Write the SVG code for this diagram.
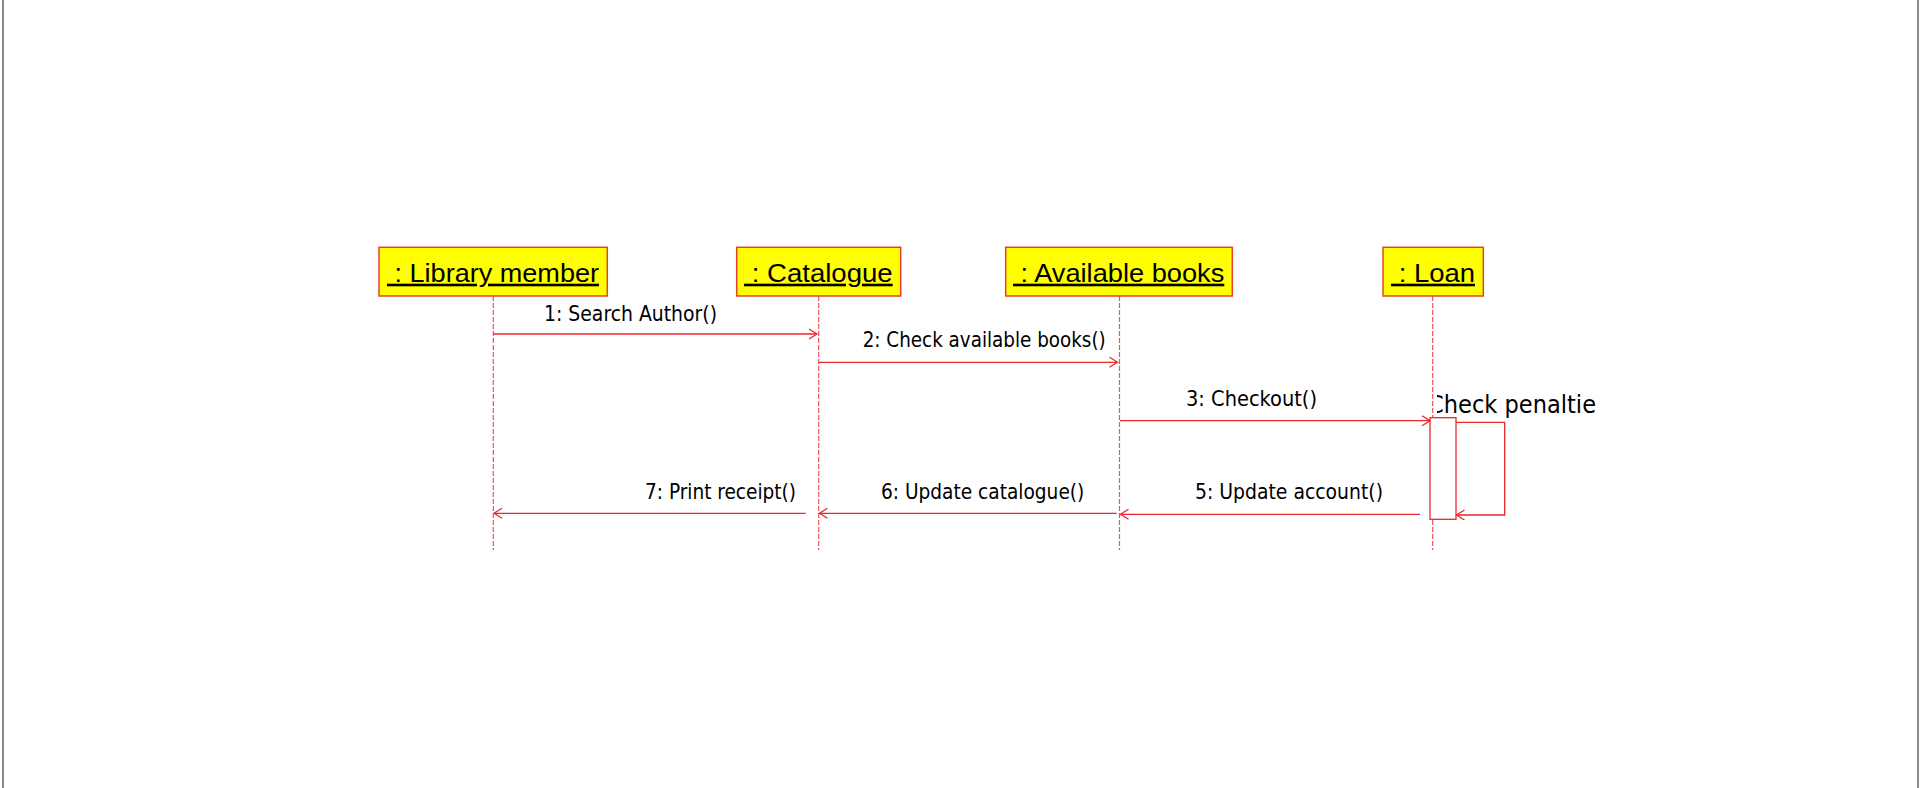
<svg xmlns="http://www.w3.org/2000/svg" width="1920" height="788" viewBox="0 0 1920 788">
<style>
.box{fill:#ffff00;stroke:#e8402a;stroke-width:1.5}
.hdr{font-family:"Liberation Sans",Arial,sans-serif;font-size:26px;fill:#000;text-decoration:underline}
.life{stroke:#f0505c;stroke-width:1.2;stroke-dasharray:5 2;fill:none}
.msg{stroke:#e8282c;stroke-width:1.3;fill:none}
.lbl{font-family:"DejaVu Sans Condensed","DejaVu Sans",sans-serif;font-size:20.5px;fill:#000}
.act{fill:#fff;stroke:#e8282c;stroke-width:1.3}
</style>
<defs>
<marker id="open" markerUnits="userSpaceOnUse" markerWidth="12" markerHeight="12" viewBox="0 0 12 12" refX="10" refY="6" orient="auto">
<path d="M2,1 L10,6 L2,11" fill="none" stroke="#e8282c" stroke-width="1.3"/>
</marker>
<clipPath id="clipPen"><rect x="1437" y="370" width="200" height="60"/></clipPath>
</defs>
<rect x="0" y="0" width="1920" height="788" fill="#fff"/>
<line x1="3" y1="0" x2="3" y2="788" stroke="#8a8a8a" stroke-width="2"/>
<line x1="1918" y1="0" x2="1918" y2="788" stroke="#8a8a8a" stroke-width="2"/>

<g id="lifelines">
<line class="life" x1="493.3" y1="296" x2="493.3" y2="550"/>
<line class="life" x1="818.7" y1="296" x2="818.7" y2="550"/>
<line class="life" x1="1119.5" y1="296" x2="1119.5" y2="550"/>
<line class="life" x1="1432.7" y1="296" x2="1432.7" y2="550"/>
</g>

<g id="node-library-member">
<rect class="box" x="379" y="247.3" width="228.3" height="48.7"/>
<text class="hdr" x="387" y="281.7" textLength="212" lengthAdjust="spacingAndGlyphs" xml:space="preserve"> : Library member</text>
</g>
<g id="node-catalogue">
<rect class="box" x="736.7" y="247.3" width="164" height="48.7"/>
<text class="hdr" x="744" y="281.7" textLength="148.7" lengthAdjust="spacingAndGlyphs" xml:space="preserve"> : Catalogue</text>
</g>
<g id="node-available-books">
<rect class="box" x="1005.7" y="247.3" width="226.6" height="48.7"/>
<text class="hdr" x="1013" y="281.7" textLength="211.3" lengthAdjust="spacingAndGlyphs" xml:space="preserve"> : Available books</text>
</g>
<g id="node-loan">
<rect class="box" x="1383" y="247.3" width="100.3" height="48.7"/>
<text class="hdr" x="1391" y="281.7" textLength="84" lengthAdjust="spacingAndGlyphs" xml:space="preserve"> : Loan</text>
</g>

<g id="activation-loan">
<rect class="act" x="1430" y="417.7" width="26" height="101.6"/>
</g>

<g id="connectors">
<line class="msg" x1="493.3" y1="334" x2="817" y2="334" marker-end="url(#open)"/>
<line class="msg" x1="818.7" y1="362.3" x2="1117.5" y2="362.3" marker-end="url(#open)"/>
<line class="msg" x1="1120" y1="420.7" x2="1430" y2="420.7" marker-end="url(#open)"/>
<polyline class="msg" points="1456,422.3 1504.7,422.3 1504.7,515 1456.5,515" marker-end="url(#open)"/>
<line class="msg" x1="1420" y1="514.3" x2="1120.5" y2="514.3" marker-end="url(#open)"/>
<line class="msg" x1="1116.7" y1="513.3" x2="819.5" y2="513.3" marker-end="url(#open)"/>
<line class="msg" x1="805.7" y1="513.3" x2="494" y2="513.3" marker-end="url(#open)"/>
</g>

<g id="labels">
<text class="lbl" x="544" y="321" textLength="173" lengthAdjust="spacingAndGlyphs">1: Search Author()</text>
<text class="lbl" x="862.7" y="347.3" textLength="243" lengthAdjust="spacingAndGlyphs">2: Check available books()</text>
<text class="lbl" x="1186" y="406" textLength="131" lengthAdjust="spacingAndGlyphs">3: Checkout()</text>
<text class="lbl" x="1195" y="499" textLength="188" lengthAdjust="spacingAndGlyphs">5: Update account()</text>
<text class="lbl" x="881" y="499.3" textLength="203.3" lengthAdjust="spacingAndGlyphs">6: Update catalogue()</text>
<text class="lbl" x="645" y="499.3" textLength="151" lengthAdjust="spacingAndGlyphs">7: Print receipt()</text>
<text clip-path="url(#clipPen)" x="1428" y="412.7" font-family="'DejaVu Sans Condensed','DejaVu Sans',sans-serif" font-size="24.5" fill="#000" textLength="168" lengthAdjust="spacingAndGlyphs">Check penaltie</text>
</g>
</svg>
